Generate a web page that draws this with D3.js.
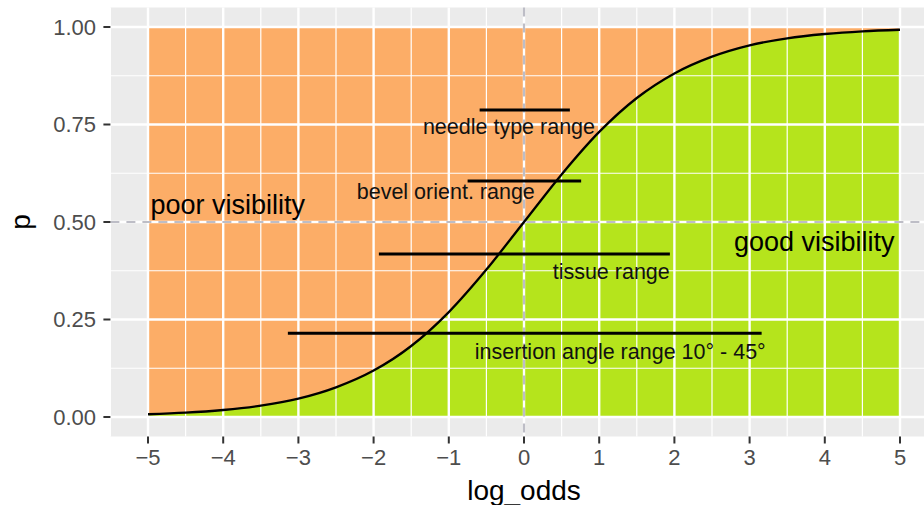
<!DOCTYPE html>
<html>
<head>
<meta charset="utf-8">
<script src="https://cdn.jsdelivr.net/npm/d3@7"></script>
<style>
  body { margin: 0; background: #fff; }
  svg { display: block; font-family: "Liberation Sans", Arial, sans-serif; }
</style>
</head>
<body>
<svg id="plot"></svg>
<script>
const width = 924;
const height = 505;

// curve
const logOdds = [-5, -4.5, -4, -3.5, -3, -2.5, -2, -1.5, -1, -0.5, 0, 0.5, 1, 1.5, 2, 2.5, 3, 3.5, 4, 4.5, 5];
const pValues = [0.007, 0.011, 0.018, 0.029, 0.047, 0.076, 0.119, 0.182, 0.269, 0.378, 0.5, 0.622, 0.731, 0.818, 0.881, 0.924, 0.953, 0.971, 0.982, 0.989, 0.993];

// range segments
const rangeNames = ["needle type range", "bevel orient. range", "tissue range", "insertion angle range 10° - 45°"];
const rangeStart = [-0.59, -0.75, -1.93, -3.14];
const rangeEnd = [0.61, 0.76, 1.94, 3.16];
const rangeP = [0.787, 0.605, 0.418, 0.215];
const labelX = [-0.2, -1.04, 1.16, 1.28];
const labelP = [0.744, 0.577, 0.374, 0.169];

const regionNames = ["poor visibility", "good visibility"];
const regionX = [-3.94, 3.86];
const regionP = [0.546, 0.449];

const xTicks = [-5, -4, -3, -2, -1, 0, 1, 2, 3, 4, 5];
const yTicks = [0, 0.25, 0.5, 0.75, 1];

const svg = d3.select("#plot")
  .attr("width", width)
  .attr("height", height);

const x = d3.scaleLinear().domain([-5, 5]).range([148, 900]);
const y = d3.scaleLinear().domain([0, 1]).range([417, 27]);

const panel = { left: x(-5.5), right: x(5.5), top: y(1.05), bottom: y(-0.05) };

svg.append("rect")
  .attr("x", panel.left)
  .attr("y", panel.top)
  .attr("width", panel.right - panel.left)
  .attr("height", panel.bottom - panel.top)
  .attr("fill", "#EBEBEB");

const pts = logOdds.map((d, i) => ({ x: d, p: pValues[i] }));

svg.append("path")
  .datum(pts)
  .attr("fill", "#FCAD67")
  .attr("d", d3.area().curve(d3.curveMonotoneX)
    .x(d => x(d.x)).y0(y(1)).y1(d => y(d.p)));

svg.append("path")
  .datum(pts)
  .attr("fill", "#B5E41C")
  .attr("d", d3.area().curve(d3.curveMonotoneX)
    .x(d => x(d.x)).y0(y(0)).y1(d => y(d.p)));

// grid
const grid = svg.append("g");
d3.range(-5.5, 5.6, 1).forEach(v => {
  grid.append("line")
    .attr("x1", x(v)).attr("x2", x(v))
    .attr("y1", panel.top).attr("y2", panel.bottom)
    .attr("stroke", "#fff").attr("stroke-width", 1.2);
});
[0.125, 0.375, 0.625, 0.875].forEach(v => {
  grid.append("line")
    .attr("x1", panel.left).attr("x2", panel.right)
    .attr("y1", y(v)).attr("y2", y(v))
    .attr("stroke", "#fff").attr("stroke-width", 1.2);
});
xTicks.forEach(v => {
  grid.append("line")
    .attr("x1", x(v)).attr("x2", x(v))
    .attr("y1", panel.top).attr("y2", panel.bottom)
    .attr("stroke", "#fff").attr("stroke-width", 2.4);
});
yTicks.forEach(v => {
  grid.append("line")
    .attr("x1", panel.left).attr("x2", panel.right)
    .attr("y1", y(v)).attr("y2", y(v))
    .attr("stroke", "#fff").attr("stroke-width", 2.4);
});

// dashed reference lines
svg.append("line")
  .attr("x1", panel.left).attr("x2", panel.right)
  .attr("y1", y(0.5)).attr("y2", y(0.5))
  .attr("stroke", "#BDBDC6").attr("stroke-width", 2.2)
  .attr("stroke-dasharray", "9,7");
svg.append("line")
  .attr("x1", x(0)).attr("x2", x(0))
  .attr("y1", panel.top).attr("y2", panel.bottom)
  .attr("stroke", "#BDBDC6").attr("stroke-width", 2.2)
  .attr("stroke-dasharray", "9,7");

// curve
svg.append("path")
  .datum(pts)
  .attr("fill", "none")
  .attr("stroke", "#000")
  .attr("stroke-width", 2.3)
  .attr("d", d3.line().curve(d3.curveMonotoneX).x(d => x(d.x)).y(d => y(d.p)));

// ranges
rangeNames.forEach((name, i) => {
  svg.append("line")
    .attr("x1", x(rangeStart[i])).attr("x2", x(rangeEnd[i]))
    .attr("y1", y(rangeP[i])).attr("y2", y(rangeP[i]))
    .attr("stroke", "#000").attr("stroke-width", 3);
  svg.append("text")
    .attr("x", x(labelX[i]))
    .attr("y", y(labelP[i]))
    .attr("dy", "0.35em")
    .attr("text-anchor", "middle")
    .attr("font-size", 21.5)
    .attr("fill", "#111")
    .text(name);
});

regionNames.forEach((name, i) => {
  svg.append("text")
    .attr("x", x(regionX[i]))
    .attr("y", y(regionP[i]))
    .attr("dy", "0.35em")
    .attr("text-anchor", "middle")
    .attr("font-size", 27)
    .attr("fill", "#000")
    .text(name);
});

// axes
const minus = v => v < 0 ? "\u2212" + Math.abs(v) : String(v);

const xAxis = svg.append("g");
xTicks.forEach(v => {
  xAxis.append("line")
    .attr("x1", x(v)).attr("x2", x(v))
    .attr("y1", panel.bottom).attr("y2", panel.bottom + 7)
    .attr("stroke", "#333").attr("stroke-width", 2);
  xAxis.append("text")
    .attr("x", x(v))
    .attr("y", 457)
    .attr("dy", "0.35em")
    .attr("text-anchor", "middle")
    .attr("font-size", 22)
    .attr("fill", "#4D4D4D")
    .text(minus(v));
});

const yAxis = svg.append("g");
yTicks.forEach(v => {
  yAxis.append("line")
    .attr("x1", panel.left - 7).attr("x2", panel.left)
    .attr("y1", y(v)).attr("y2", y(v))
    .attr("stroke", "#333").attr("stroke-width", 2);
  yAxis.append("text")
    .attr("x", 96)
    .attr("y", y(v))
    .attr("dy", "0.35em")
    .attr("text-anchor", "end")
    .attr("font-size", 22)
    .attr("fill", "#4D4D4D")
    .text(d3.format(".2f")(v));
});

svg.append("text")
  .attr("x", x(0))
  .attr("y", 490)
  .attr("dy", "0.35em")
  .attr("text-anchor", "middle")
  .attr("font-size", 28)
  .attr("fill", "#000")
  .text("log_odds");

svg.append("text")
  .attr("transform", `translate(20,${y(0.5)}) rotate(-90)`)
  .attr("dy", "0.35em")
  .attr("text-anchor", "middle")
  .attr("font-size", 28)
  .attr("fill", "#000")
  .text("p");
</script>
</body>
</html>
